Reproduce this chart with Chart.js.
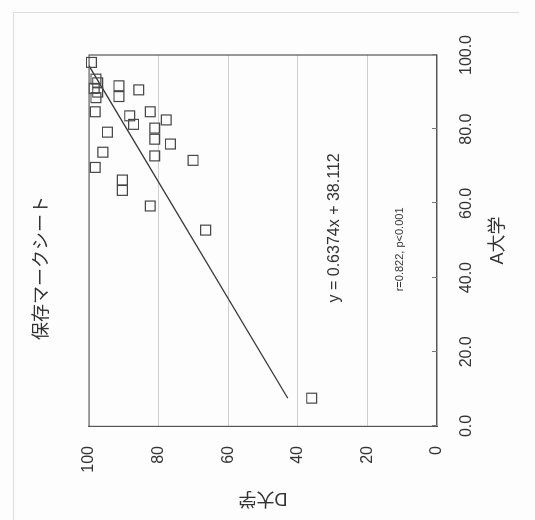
<!DOCTYPE html>
<html>
<head>
<meta charset="utf-8">
<script src="https://cdn.jsdelivr.net/npm/chart.js@4/dist/chart.umd.min.js"></script>
<style>
    body { margin: 0; background: #fdfdfd; overflow: hidden; width: 535px; height: 520px; position: relative; }
    .frame { position: absolute; left: 13px; top: 12px; width: 505px; height: 520px; border-left: 1px solid #dcdcdc; border-top: 1px solid #dcdcdc; }
    /* the chart is drawn upright and then turned a quarter to the left, like the scanned page */
    .turned { position: absolute; left: 0; top: 0; width: 520px; height: 535px; transform-origin: 0 0; transform: translate(0, 520px) rotate(-90deg); }
</style>
</head>
<body>
<div class="frame"></div>
<div class="turned"><canvas id="scatterChart" width="520" height="535"></canvas></div>
<script>
// A大学 (x) and D大学 (y) scores, one pair per student
const aScores = [98, 93.5, 92.5, 91, 90, 88.5, 84.7, 91.7, 88.8, 90.6, 83.6, 81.3, 84.7, 82.5, 80.3, 77.3, 76.0, 72.8, 79.2, 73.8, 69.7, 71.6, 66.3, 63.5, 59.3, 52.8, 7.5];
const dScores = [99.3, 98, 97.5, 98.5, 97.5, 98, 98.2, 91.4, 91.4, 85.7, 88.3, 87.2, 82.4, 77.8, 81.1, 81.1, 76.6, 81.1, 94.7, 96.0, 98.2, 70.1, 90.4, 90.4, 82.4, 66.5, 36];

// trend line as printed on the chart
const slope = 0.6374;
const intercept = 38.112;
const trendX = [7.5, 98];

const titleText = '保存マークシート';
const equationText = 'y = 0.6374x + 38.112';
const statText = 'r=0.822, p<0.001';

const ink = '#333';
const sansFont = "'Liberation Sans', Arial, 'Noto Sans CJK JP', sans-serif";

const points = aScores.map((a, i) => ({ x: a, y: dScores[i] }));
const trend = trendX.map(x => ({ x: x, y: slope * x + intercept }));

// Title, equation text and inner tick marks
const extras = {
    id: 'extras',
    afterDraw(chart) {
        const c = chart.ctx;
        const xs = chart.scales.x;
        const ys = chart.scales.y;
        const area = chart.chartArea;

        c.save();
        c.strokeStyle = '#555';
        c.lineWidth = 1.2;
        c.beginPath();
        c.moveTo(area.left, area.top);
        c.lineTo(area.right, area.top);
        c.lineTo(area.right, area.bottom);
        c.stroke();

        c.strokeStyle = '#777';
        c.lineWidth = 1;
        xs.ticks.forEach(t => {
            const px = Math.round(xs.getPixelForValue(t.value)) + 0.5;
            c.beginPath();
            c.moveTo(px, area.bottom);
            c.lineTo(px, area.bottom - 5);
            c.stroke();
        });

        c.fillStyle = ink;
        c.textAlign = 'center';
        c.textBaseline = 'middle';
        c.font = "18px 'Noto Sans CJK JP', sans-serif";
        c.fillText(titleText, 252, 40);

        c.font = '16px ' + sansFont;
        c.fillText(equationText, xs.getPixelForValue(53.4), ys.getPixelForValue(29.4));

        c.font = '11px ' + sansFont;
        c.fillText(statText, xs.getPixelForValue(47.6), ys.getPixelForValue(10.7));
        c.restore();
    }
};

const ctx = document.getElementById('scatterChart').getContext('2d');
new Chart(ctx, {
    type: 'scatter',
    data: {
        datasets: [{
            data: points,
            pointStyle: 'rect',
            radius: 7,
            hoverRadius: 7,
            borderWidth: 1.2,
            borderColor: '#474747',
            backgroundColor: 'rgba(0,0,0,0)',
            clip: 10
        }, {
            data: trend,
            showLine: true,
            pointRadius: 0,
            borderColor: '#383838',
            borderWidth: 1.4
        }]
    },
    options: {
        responsive: false,
        animation: false,
        devicePixelRatio: 1,
        layout: { padding: { top: 89, right: 55, left: 0, bottom: 0 } },
        plugins: {
            legend: { display: false },
            tooltip: { enabled: false }
        },
        scales: {
            x: {
                min: 0,
                max: 100,
                afterFit: scale => { scale.height = 98; },
                ticks: {
                    stepSize: 20,
                    padding: 20,
                    color: ink,
                    font: { size: 16, family: sansFont },
                    maxRotation: 0,
                    callback: v => v.toFixed(1)
                },
                grid: { drawOnChartArea: false, drawTicks: false },
                border: { color: '#555', width: 1.2 },
                title: {
                    display: true,
                    text: 'A大学',
                    color: ink,
                    font: { size: 18, family: sansFont },
                    padding: { top: 0, bottom: 26 }
                }
            },
            y: {
                min: 0,
                max: 100,
                afterFit: scale => { scale.width = 94; },
                ticks: {
                    stepSize: 20,
                    padding: 20,
                    color: ink,
                    font: { size: 16, family: sansFont }
                },
                grid: { color: '#cfcfcf', drawTicks: false },
                border: { color: '#555', width: 1.2 },
                title: {
                    display: true,
                    text: 'D大学',
                    color: ink,
                    font: { size: 18, family: sansFont },
                    padding: { top: 11, bottom: 0 }
                }
            }
        }
    },
    plugins: [extras]
});
</script>
</body>
</html>
